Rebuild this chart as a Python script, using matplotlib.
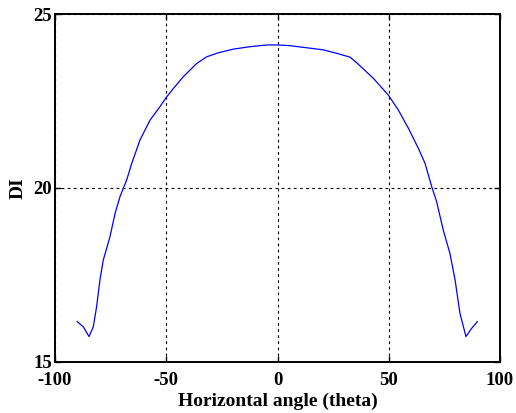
import matplotlib
matplotlib.use("Agg")
import matplotlib.pyplot as plt

# directivity index against horizontal angle
theta = [-90.0, -87.3, -84.7, -82.8, -81.3, -79.8, -78.3, -75.3, -73.0, -70.8,
         -69.3, -67.8, -65.5, -61.8, -57.3, -52.8, -49.8, -46.8, -42.3, -36.3,
         -31.8, -26.9, -19.9, -12.4, -4.9, 0.3, 5.6, 13.1, 20.6, 26.6,
         32.6, 35.6, 43.1, 49.8, 54.3, 58.8, 63.3, 66.3, 69.3, 71.5,
         74.5, 77.5, 79.8, 82.0, 84.7, 87.3, 89.8]
di = [16.16, 16.01, 15.73, 16.01, 16.59, 17.36, 17.93, 18.60, 19.27, 19.75,
      19.99, 20.23, 20.71, 21.38, 21.95, 22.34, 22.62, 22.86, 23.20, 23.58,
      23.77, 23.88, 23.99, 24.06, 24.11, 24.11, 24.09, 24.03, 23.97, 23.87,
      23.76, 23.60, 23.15, 22.67, 22.24, 21.72, 21.14, 20.71, 20.04, 19.61,
      18.79, 18.12, 17.36, 16.40, 15.73, 15.97, 16.16]

xticks = [-100, -50, 0, 50, 100]
yticks = [15, 20, 25]

plt.rcParams.update({"font.family": "Liberation Serif", "font.weight": "bold",
                     "axes.linewidth": 1.4, "axes.unicode_minus": False})

fig = plt.figure(figsize=(5.16, 4.13), dpi=100)
ax = fig.add_axes([0.1066, 0.1235, 0.8624, 0.8426])
ax.plot(theta, di, color="#0000ff", lw=0.9)

ax.set_xlim(-100, 100)
ax.set_ylim(15, 25)
ax.set_xticks(xticks)
ax.set_yticks(yticks)
ax.grid(True, color="black", linestyle=(0, (2.5, 3)), linewidth=0.8)
ax.tick_params(direction="in", top=True, right=True, length=4, width=1,
               labelsize=13.5)
ax.tick_params(axis="x", pad=7)
ax.tick_params(axis="y", pad=2)
for lab in ax.get_xticklabels() + ax.get_yticklabels():
    lab.set_fontweight("bold")

ax.set_xlabel("Horizontal angle (theta)", fontsize=14, fontweight="bold", labelpad=3)
ax.set_ylabel("DI", fontsize=14, fontweight="bold", labelpad=5)

fig.savefig("out.png", dpi=100, facecolor="white")
